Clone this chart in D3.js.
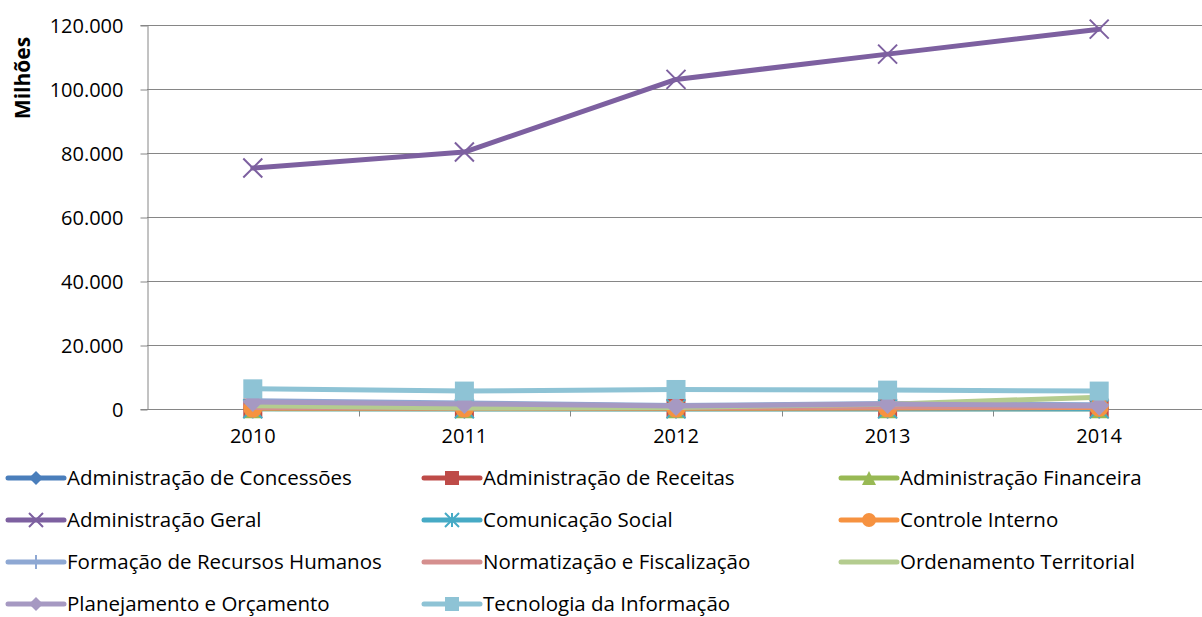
<!DOCTYPE html>
<html lang="pt">
<head>
<meta charset="UTF-8">
<title>Milhões por função</title>
<script src="https://cdnjs.cloudflare.com/ajax/libs/d3/7.8.5/d3.min.js"></script>
<style>
    body { margin: 0; background: #fff; }
    text { font-family: "Open Sans", sans-serif; fill: #000; }
</style>
</head>
<body>
<script>
    // categories and series
    var years = ["2010", "2011", "2012", "2013", "2014"];
    var yTicks = [0, 20000, 40000, 60000, 80000, 100000, 120000];

    var seriesNames = [
        "Administração de Concessões", "Administração de Receitas", "Administração Financeira",
        "Administração Geral", "Comunicação Social", "Controle Interno",
        "Formação de Recursos Humanos", "Normatização e Fiscalização", "Ordenamento Territorial",
        "Planejamento e Orçamento", "Tecnologia da Informação"
    ];

    var concessoes   = [150, 100, 100, 100, 100];
    var receitas     = [300, 250, 200, 250, 300];
    var financeira   = [100, 80, 80, 80, 80];
    var geral        = [75300, 80300, 103000, 110900, 118700];
    var comunicacao  = [60, 60, 50, 50, 50];
    var controle     = [250, 200, 250, 300, 500];
    var formacao     = [2600, 1900, 1100, 1700, 1300];
    var normatizacao = [500, 400, 500, 600, 700];
    var ordenamento  = [1000, 300, 500, 1500, 3700];
    var planejamento = [2200, 1600, 900, 1600, 1000];
    var tecnologia   = [6300, 5600, 6100, 5900, 5600];

    var seriesValues = [concessoes, receitas, financeira, geral, comunicacao, controle,
        formacao, normatizacao, ordenamento, planejamento, tecnologia];

    var colors = ["#4A7EBB", "#BE4B48", "#98B954", "#7D60A0", "#46AAC5", "#F69240",
        "#8EA8D3", "#D58F8E", "#B4CC8F", "#A699C2", "#8EC3D5"];
    var markers = ["diamond", "square", "triangle", "x", "asterisk", "circle",
        "plus", "none", "none", "diamond", "square"];

    var width = 1202, height = 617;
    var margin = {top: 25, left: 147, right: -3, bottom: 208};

    var svg = d3.select("body").append("svg")
        .attr("width", width)
        .attr("height", height);

    var x = d3.scaleBand()
        .domain(years)
        .range([margin.left, width - margin.right]);

    var y = d3.scaleLinear()
        .domain([0, 120000])
        .range([height - margin.bottom, margin.top]);

    var pt = d3.formatLocale({decimal: ",", thousands: ".", grouping: [3], currency: ["R$", ""]});
    var fmt = pt.format(",.0f");

    // gridlines
    svg.append("g")
        .selectAll("line")
        .data(yTicks.slice(1))
        .enter().append("line")
        .attr("x1", margin.left)
        .attr("x2", width)
        .attr("y1", function(d) { return y(d) + 0.5; })
        .attr("y2", function(d) { return y(d) + 0.5; })
        .attr("stroke", "#868686")
        .attr("stroke-width", 1);

    // y axis
    var yAxis = svg.append("g")
        .attr("transform", "translate(" + (margin.left + 0.5) + ",0)")
        .call(d3.axisLeft(y).tickValues(yTicks).tickFormat(fmt).tickSize(7).tickPadding(17));
    yAxis.select(".domain").attr("stroke", "#868686");
    yAxis.selectAll(".tick line").attr("stroke", "#868686").attr("transform", "translate(0,0.5)");
    yAxis.selectAll("text").style("font-size", "20px").attr("dy", "0.35em");

    // x axis with ticks between categories
    var x0 = y(0) + 0.5;
    svg.append("line")
        .attr("x1", margin.left).attr("x2", width)
        .attr("y1", x0).attr("y2", x0)
        .attr("stroke", "#868686");
    svg.append("g")
        .selectAll("line")
        .data(years)
        .enter().append("line")
        .attr("x1", function(d) { return Math.round(x(d) + x.bandwidth()) + 0.5; })
        .attr("x2", function(d) { return Math.round(x(d) + x.bandwidth()) + 0.5; })
        .attr("y1", x0)
        .attr("y2", x0 + 7)
        .attr("stroke", "#868686");
    svg.append("g")
        .selectAll("text")
        .data(years)
        .enter().append("text")
        .attr("x", function(d) { return x(d) + x.bandwidth() / 2; })
        .attr("y", x0 + 31)
        .attr("dy", "0.1em")
        .attr("text-anchor", "middle")
        .style("font-size", "20px")
        .text(function(d) { return d; });

    // y axis title
    svg.append("text")
        .attr("transform", "translate(30,78) rotate(-90)")
        .attr("text-anchor", "middle")
        .style("font-size", "21px")
        .style("font-weight", "bold")
        .text("Milhões");

    function cx(i) { return x(years[i]) + x.bandwidth() / 2; }

    function drawMarker(g, type, px, py, color, s) {
        if (type === "diamond") {
            g.append("path").attr("d", "M" + px + "," + (py - s) + "L" + (px + s) + "," + py +
                "L" + px + "," + (py + s) + "L" + (px - s) + "," + py + "Z").attr("fill", color);
        } else if (type === "square") {
            g.append("rect").attr("x", px - s).attr("y", py - s).attr("width", 2 * s).attr("height", 2 * s).attr("fill", color);
        } else if (type === "triangle") {
            g.append("path").attr("d", "M" + px + "," + (py - s) + "L" + (px + s) + "," + (py + s) +
                "L" + (px - s) + "," + (py + s) + "Z").attr("fill", color);
        } else if (type === "circle") {
            g.append("circle").attr("cx", px).attr("cy", py).attr("r", s).attr("fill", color);
        } else if (type === "x") {
            g.append("path").attr("d", "M" + (px - s) + "," + (py - s) + "L" + (px + s) + "," + (py + s) +
                "M" + (px + s) + "," + (py - s) + "L" + (px - s) + "," + (py + s))
                .attr("stroke", color).attr("stroke-width", 2).attr("fill", "none");
        } else if (type === "asterisk") {
            g.append("path").attr("d", "M" + (px - s) + "," + (py - s) + "L" + (px + s) + "," + (py + s) +
                "M" + (px + s) + "," + (py - s) + "L" + (px - s) + "," + (py + s) +
                "M" + px + "," + (py - s) + "L" + px + "," + (py + s))
                .attr("stroke", color).attr("stroke-width", 2).attr("fill", "none");
        } else if (type === "plus") {
            g.append("path").attr("d", "M" + px + "," + (py - s) + "L" + px + "," + (py + s) +
                "M" + (px - s) + "," + py + "L" + (px + s) + "," + py)
                .attr("stroke", color).attr("stroke-width", 2).attr("fill", "none");
        }
    }

    var line = d3.line()
        .x(function(d, i) { return cx(i); })
        .y(function(d) { return y(d); });

    // series
    seriesValues.forEach(function(vals, k) {
        var g = svg.append("g");
        g.append("path")
            .datum(vals)
            .attr("d", line)
            .attr("fill", "none")
            .attr("stroke", colors[k])
            .attr("stroke-width", 5)
            .attr("stroke-linejoin", "round")
            .attr("stroke-linecap", "round");
        vals.forEach(function(v, i) {
            drawMarker(g, markers[k], cx(i), y(v), colors[k], markers[k] === "diamond" ? 10 : 9.5);
        });
    });

    // legend
    var legX = [8, 424, 841];
    var legY = [478, 520, 562, 604];
    var leg = svg.append("g");
    seriesNames.forEach(function(name, k) {
        var col = k % 3, row = Math.floor(k / 3);
        var lx = legX[col], ly = legY[row];
        var g = leg.append("g");
        g.append("line")
            .attr("x1", lx).attr("x2", lx + 56)
            .attr("y1", ly).attr("y2", ly)
            .attr("stroke", colors[k])
            .attr("stroke-width", 5)
            .attr("stroke-linecap", "round");
        drawMarker(g, markers[k], lx + 28, ly, colors[k], 7);
        g.append("text")
            .attr("x", lx + 59)
            .attr("y", ly)
            .attr("dy", "0.35em")
            .style("font-size", "20.5px")
            .text(name);
    });
</script>
</body>
</html>
